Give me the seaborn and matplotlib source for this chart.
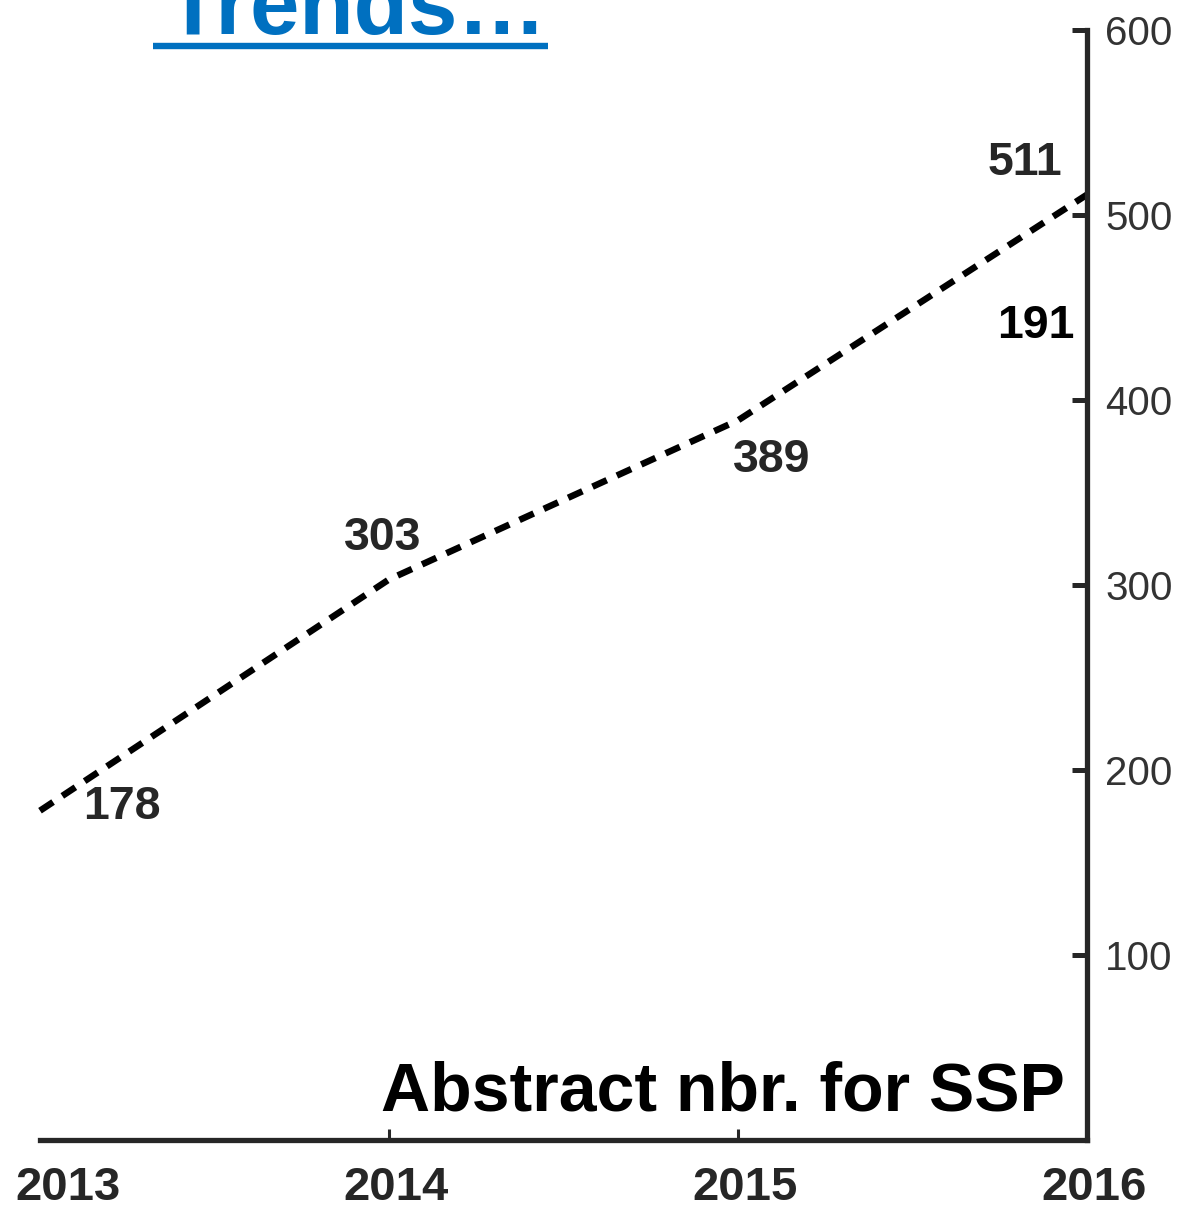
import matplotlib
matplotlib.use("Agg")
import matplotlib.pyplot as plt
import matplotlib.transforms as mtransforms
from matplotlib.lines import Line2D
import seaborn as sns
import pandas as pd

# data
years = [2013, 2014, 2015, 2016]
abstracts = [178, 303, 389, 511]
y_ticks = [100, 200, 300, 400, 500, 600]
# label offsets (pixels) for each point label
label_dx = [82, -6, 34, -62]
label_dy = [4, 41, -40, 32]
stray_label = "191"
title = "Trends…"
series_label = "Abstract nbr. for SSP"

df = pd.DataFrame({"year": years, "abstracts": abstracts})

sns.set_theme(style="white")
plt.rcParams["font.family"] = ["Liberation Sans", "DejaVu Sans"]

dark = "#262626"
fig = plt.figure(figsize=(11.84, 12.09), dpi=100)
ax = fig.add_axes([40 / 1184, 69 / 1209, 1047 / 1184, 1110 / 1209])

sns.lineplot(data=df, x="year", y="abstracts", ax=ax, color="black",
             linewidth=4.7, clip_on=False)
ax.lines[0].set_dashes([2.4, 1.7])

ax.set_xlim(years[0], years[-1])
ax.set_ylim(0, 600)
ax.set_xticks(years)
ax.set_yticks(y_ticks)
ax.set_xlabel("")
ax.set_ylabel("")

ax.yaxis.tick_right()
for s in ["left", "top"]:
    ax.spines[s].set_visible(False)
for s in ["right", "bottom"]:
    ax.spines[s].set_color(dark)
    ax.spines[s].set_linewidth(3.8)

ax.tick_params(axis="y", which="both", direction="in", length=11, width=3.6,
               color=dark, right=True, left=False, pad=13)
ax.tick_params(axis="x", direction="in", length=8, width=2.2, color=dark,
               bottom=True, pad=19)
ax.xaxis.get_major_ticks()[0].tick1line.set_visible(False)

for lab in ax.get_yticklabels():
    lab.set_fontfamily(["Liberation Sans Narrow", "Liberation Sans"])
    lab.set_fontsize(29)
    lab.set_color("#333333")

for i, lab in enumerate(ax.get_xticklabels()):
    lab.set_fontsize(34)
    lab.set_fontweight("bold")
    lab.set_color(dark)
    shift = 28 if i == 0 else 7
    lab.set_transform(lab.get_transform() +
                      mtransforms.ScaledTranslation(shift / 100, 0, fig.dpi_scale_trans))

for x, y, dx, dy in zip(years, abstracts, label_dx, label_dy):
    ax.annotate(str(y), xy=(x, y), xytext=(dx, dy), textcoords="offset pixels",
                ha="center", va="center", fontsize=33.5, fontweight="bold",
                color=dark, annotation_clip=False)

ax.text(0.951, 0.733, stray_label, transform=ax.transAxes, ha="center",
        va="center", fontsize=33.5, fontweight="bold", color="black")

ax.text(0.979, 0.027, series_label, transform=ax.transAxes, ha="right",
        va="baseline", fontsize=49, fontweight="bold", color="black")

fig.text(166 / 1184, (1209 - 34) / 1209, title, ha="left", va="baseline",
         fontsize=64, fontweight="bold", color="#0070C0")
fig.add_artist(Line2D([153 / 1184, 548 / 1184], [1163 / 1209, 1163 / 1209],
                      transform=fig.transFigure, color="#0070C0", linewidth=4.6,
                      solid_capstyle="butt"))

fig.savefig("out.png", dpi=100)
